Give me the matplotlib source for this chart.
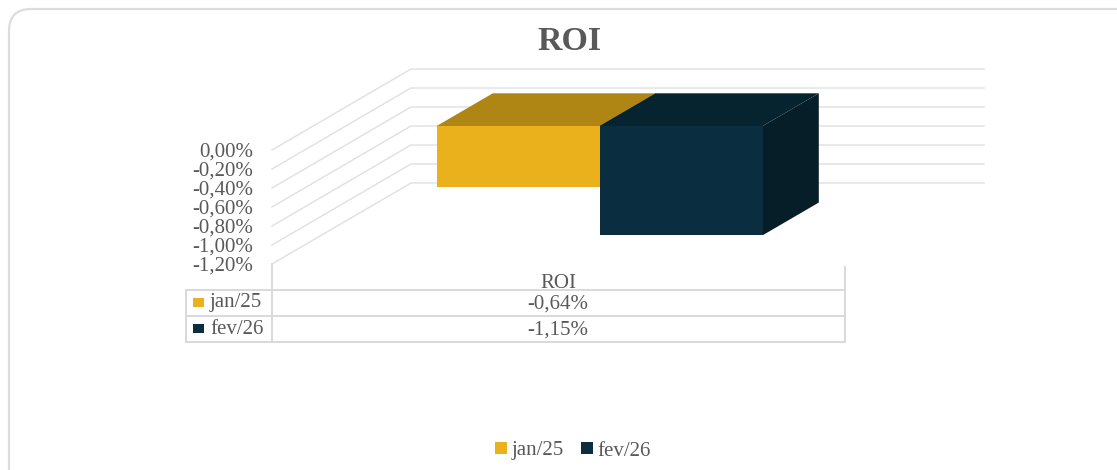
import matplotlib
matplotlib.use('Agg')
import matplotlib.pyplot as plt
from matplotlib.patches import FancyBboxPatch, Patch

plt.rcParams['font.family'] = ['Liberation Serif', 'DejaVu Serif']

# data
periods = ['jan/25', 'fev/26']
roi = [-0.64, -1.15]
roi_labels = ['-0,64%', '-1,15%']
y_ticks = [0, -0.2, -0.4, -0.6, -0.8, -1.0, -1.2]
y_labels = ['0,00%', '-0,20%', '-0,40%', '-0,60%', '-0,80%', '-1,00%', '-1,20%']
category = 'ROI'

colors = ['#EBB11C', '#0A2E3F']
top_colors = ['#AF8513', '#06242F']
side_color = '#061E28'
grid = '#E0E0E0'
text_col = '#595959'
fs = 15

W, H = 1117, 470
fig = plt.figure(figsize=(W / 100, H / 100), dpi=100)

# frame in pixel coords, runs off the right and bottom edge
bg = fig.add_axes([0, 0, 1, 1])
bg.set_xlim(0, W)
bg.set_ylim(H, 0)
bg.axis('off')
bg.add_patch(FancyBboxPatch((9, 9), 1150, 490, boxstyle='round,pad=0,rounding_size=22',
                            fc='white', ec='#DCDCDC', lw=1.6))

# front plane of the 3d box: 272-845 px wide, 150-264 px high
ax = fig.add_axes([272 / W, 1 - 264 / H, 573 / W, 114 / H])
ax.patch.set_alpha(0)
ax.set_xlim(0, 2)
ax.set_ylim(-1.2, 0)
ax.axis('off')

# depth of the box in data units
dx = 139 / 573 * 2
dy = 81 / 95


def pt(x, v, t):
    return (x + dx * t, v + dy * t)


def face(pts, color, z):
    xs = [p[0] for p in pts]
    ys = [p[1] for p in pts]
    ax.fill(xs, ys, color=color, lw=0, clip_on=False, zorder=z)


# gridlines: floor side then back wall
for v in y_ticks:
    a = pt(0, v, 0)
    b = pt(0, v, 1)
    c = pt(2, v, 1)
    ax.plot([a[0], b[0], c[0]], [a[1], b[1], c[1]], color=grid, lw=1.0, clip_on=False, zorder=1)

bar_w = 163 / 573 * 2
t0, t1 = 0.296, 0.70
for i, val in enumerate(roi):
    x0 = 1 - bar_w + i * bar_w
    x1 = x0 + bar_w
    z = 3 + i
    face([pt(x0, 0, t0), pt(x1, 0, t0), pt(x1, 0, t1), pt(x0, 0, t1)], top_colors[i], z)
    face([pt(x1, 0, t0), pt(x1, val, t0), pt(x1, val, t1), pt(x1, 0, t1)], side_color, z)
    face([pt(x0, 0, t0), pt(x1, 0, t0), pt(x1, val, t0), pt(x0, val, t0)], colors[i], z + 0.5)

for v, lab in zip(y_ticks, y_labels):
    ax.annotate(lab, (0, v), xytext=(-19, -2), textcoords='offset pixels', ha='right', va='center',
                fontsize=fs, color=text_col, annotation_clip=False)

# data table, pixel coords
for y in [290, 316, 342]:
    bg.plot([186, 845], [y, y], color='#D9D9D9', lw=1.4, zorder=2)
bg.plot([186, 186], [290, 342], color='#D9D9D9', lw=1.4, zorder=2)
bg.plot([272, 272], [264, 342], color='#D9D9D9', lw=1.4, zorder=2)
bg.plot([845, 845], [267, 342], color='#D9D9D9', lw=1.4, zorder=2)

bg.text(558, 283, category, ha='center', va='center', fontsize=fs, color=text_col)
for i, lab in enumerate(roi_labels):
    y = 304 + i * 26
    bg.text(558, y, lab, ha='center', va='center', fontsize=fs, color=text_col)
    bg.text(210, y - 1, periods[i], ha='left', va='center', fontsize=fs, color=text_col)
    bg.fill([193, 204, 204, 193], [y - 6, y - 6, y + 3, y + 3], color=colors[i], lw=0, zorder=3)

bg.text(570, 41, 'ROI', ha='center', va='center', fontsize=24.5, fontweight='bold', color=text_col)

handles = [Patch(color=colors[i], lw=0, label=periods[i]) for i in range(2)]
fig.legend(handles=handles, loc='center', bbox_to_anchor=(573 / W, 1 - 451 / H), ncol=2, frameon=False,
           fontsize=fs, labelcolor=text_col, handlelength=0.58, handleheight=0.45,
           handletextpad=0.2, columnspacing=0.85)

fig.savefig('out.png', dpi=100)
